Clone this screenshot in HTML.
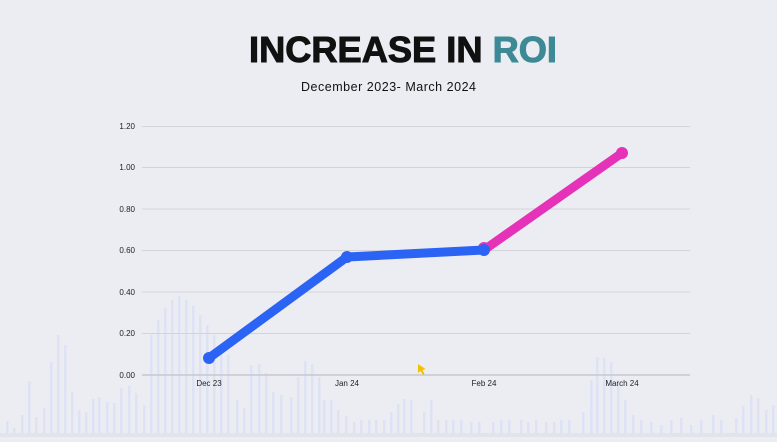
<!DOCTYPE html>
<html><head><meta charset="utf-8"><style>
html,body{margin:0;padding:0;background:#ecedf2;}
body{width:777px;height:437px;overflow:hidden;font-family:"Liberation Sans",sans-serif;}
</style></head><body>
<svg width="777" height="437" viewBox="0 0 777 437" xmlns="http://www.w3.org/2000/svg">
<rect width="777" height="437" fill="#ecedf2"/>
<g id="bars" fill="#dde2f5"></g>
<rect x="0" y="433" width="777" height="4" fill="#e2e4ec"/>
<text x="249" y="62" textLength="308" lengthAdjust="spacingAndGlyphs" font-family="Liberation Sans, sans-serif" font-weight="900" font-size="36" fill="#111" stroke="#111" stroke-width="1">INCREASE IN <tspan fill="#3d8a96" stroke="#3d8a96">ROI</tspan></text>
<text x="301" y="91" textLength="175" font-size="12.5" fill="#111">December 2023- March 2024</text>
<g stroke="#d3d4da" stroke-width="1">
<line x1="142" x2="690" y1="126.5" y2="126.5"/>
<line x1="142" x2="690" y1="167.5" y2="167.5"/>
<line x1="142" x2="690" y1="209" y2="209"/>
<line x1="142" x2="690" y1="250.5" y2="250.5"/>
<line x1="142" x2="690" y1="292" y2="292"/>
<line x1="142" x2="690" y1="333.5" y2="333.5"/>
</g>
<line x1="142" x2="690" y1="375" y2="375" stroke="#c7c8d0" stroke-width="1.5"/>
<g font-size="8" fill="#222" text-anchor="end">
<text x="135" y="129">1.20</text><text x="135" y="170">1.00</text><text x="135" y="212">0.80</text>
<text x="135" y="253">0.60</text><text x="135" y="295">0.40</text><text x="135" y="336">0.20</text><text x="135" y="378">0.00</text>
</g>
<g font-size="8" fill="#222" text-anchor="middle">
<text x="209" y="386">Dec 23</text><text x="347" y="386">Jan 24</text><text x="484" y="386">Feb 24</text><text x="622" y="386">March 24</text>
</g>
<polyline points="484,250 622,153" fill="none" stroke="#e532b8" stroke-width="9" stroke-linecap="round"/>
<circle cx="484" cy="248" r="6" fill="#e532b8"/>
<circle cx="622" cy="153" r="6" fill="#e532b8"/>
<polyline points="209,358 347,257 484,250" fill="none" stroke="#2b63f5" stroke-width="9" stroke-linecap="round" stroke-linejoin="round"/>
<circle cx="209" cy="358" r="6" fill="#2b63f5"/>
<circle cx="347" cy="257" r="6" fill="#2b63f5"/>
<circle cx="484" cy="250" r="6" fill="#2b63f5"/>
<path d="M418 364 L418 373 L420.5 371 L423 375 L424.5 374 L422.5 370 L425.5 369 Z" fill="#f2c200"/>
</svg>
<script>
var tops=[[6,421],[13,428],[21,415],[28,381],[35,417],[43,408],[50,362],[57,335],[64,345],[71,392],[78,410],[85,412],[92,399],[98,397],[106,402],[113,403],[120,388],[128,386],[135,393],[143,405],[150,335],[157,320],[164,308],[171,300],[178,296],[185,300],[192,306],[199,315],[206,325],[213,335],[220,345],[227,355],[236,400],[243,408],[250,365],[258,364],[265,373],[272,392],[280,395],[290,397],[297,377],[304,361],[311,364],[318,377],[323,400],[330,400],[337,410],[345,416],[353,422],[360,420],[368,420],[375,420],[383,420],[390,412],[397,404],[403,399],[410,400],[423,412],[430,400],[437,420],[445,420],[452,420],[460,420],[470,422],[478,422],[492,422],[500,420],[508,420],[520,420],[527,422],[535,420],[545,422],[553,422],[560,420],[568,420],[582,412],[590,380],[596,357],[603,358],[610,362],[617,380],[624,400],[632,415],[640,420],[650,422],[660,425],[670,420],[680,418],[690,425],[700,420],[712,415],[720,420],[735,418],[742,406],[750,395],[757,398],[765,410],[772,405]];
var g=document.getElementById('bars'),s='';
tops.forEach(function(t){s+='<rect x="'+t[0]+'" y="'+t[1]+'" width="2.5" height="'+(433-t[1])+'"/>';});
g.innerHTML=s;
</script>
</body></html>
